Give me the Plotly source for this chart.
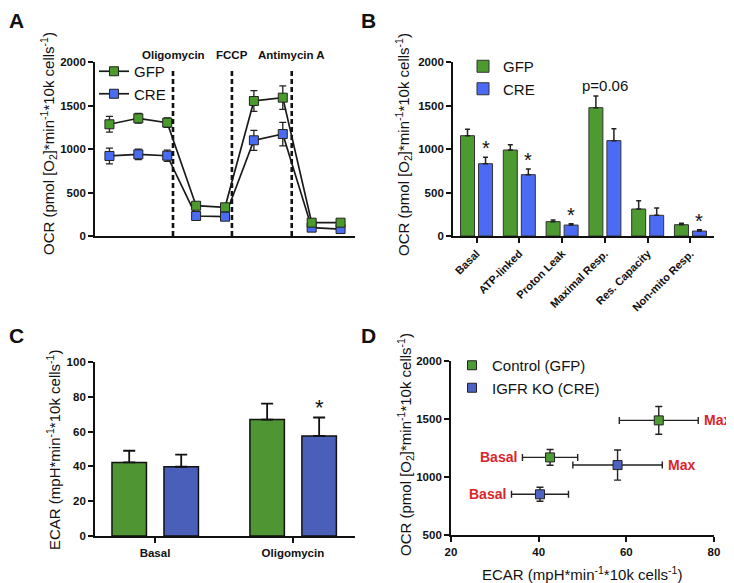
import plotly.graph_objects as go

W, H = 734, 583
OFF = 8  # page body margin of the rendered html
FONT = "Liberation Sans, Arial, sans-serif"

# ---------------- Data ----------------
# Panel A: OCR time course (measurement index)
a_meas = [1, 2, 3, 4, 5, 6, 7, 8, 9]
a_gfp = [1284, 1353, 1303, 348, 330, 1552, 1590, 153, 153]
a_gfp_err = [90, 55, 55, 20, 15, 120, 135, 15, 15]
a_cre = [920, 939, 923, 230, 222, 1100, 1172, 96, 80]
a_cre_err = [90, 60, 65, 15, 15, 115, 135, 10, 10]
inj_pos = [3.2, 5.24, 7.31]
inj_names = ["Oligomycin", "FCCP", "Antimycin A"]

# Panel B: OCR parameters
b_cats = ["Basal", "ATP-linked", "Proton Leak", "Maximal Resp.", "Res. Capacity", "Non-mito Resp."]
b_gfp = [1153, 988, 165, 1475, 310, 130]
b_gfp_err = [73, 62, 19, 134, 96, 16]
b_cre = [831, 705, 126, 1096, 238, 57]
b_cre_err = [73, 65, 16, 138, 84, 16]
b_sig = ["*", "*", "*", "", "", "*"]
b_pnote = {3: "p=0.06"}

# Panel C: ECAR
c_cats = ["Basal", "Oligomycin"]
c_gfp = [42.3, 66.9]
c_gfp_err = [6.7, 9.2]
c_cre = [39.8, 57.5]
c_cre_err = [7.0, 10.6]
c_sig = ["", "*"]

# Panel D: energy map
d_labels = ["Basal", "Max"]
d_gfp_ecar = [42.6, 67.4]
d_gfp_ecar_err = [6.3, 9.0]
d_gfp_ocr = [1169, 1488]
d_gfp_ocr_err = [68, 120]
d_cre_ecar = [40.3, 58.0]
d_cre_ecar_err = [6.5, 10.2]
d_cre_ocr = [851, 1103]
d_cre_ocr_err = [60, 130]

GREEN_A = "#4b9a2c"
BLUE_A = "#4a6cf2"
GREEN_B = "#4d9a30"
BLUE_B = "#4b6bf5"
GREEN_C = "#4f9534"
BLUE_C = "#4a5fb9"
GREEN_D = "#4e9a36"
BLUE_D = "#4f62c2"
RED = "#d8262b"


def px(x):
    return (x - OFF) / W


def py(y):
    return 1 - (y - OFF) / H


fig = go.Figure()

# ---------------- Panel A ----------------
fig.add_trace(go.Scatter(
    x=a_meas, y=a_cre, mode="lines+markers", name="CRE",
    line=dict(color="#1a1a1a", width=1.7),
    marker=dict(symbol="square", size=9, color=BLUE_A, line=dict(color="#222", width=1)),
    error_y=dict(type="data", array=a_cre_err, color="#222", thickness=1.3, width=3.5),
    xaxis="x", yaxis="y", legend="legend", legendrank=2))
fig.add_trace(go.Scatter(
    x=a_meas, y=a_gfp, mode="lines+markers", name="GFP",
    line=dict(color="#1a1a1a", width=1.7),
    marker=dict(symbol="square", size=9, color=GREEN_A, line=dict(color="#222", width=1)),
    error_y=dict(type="data", array=a_gfp_err, color="#222", thickness=1.3, width=3.5),
    xaxis="x", yaxis="y", legend="legend", legendrank=1))

# ---------------- Panel B ----------------
bx = list(range(len(b_cats)))
b_w = 0.327
fig.add_trace(go.Bar(
    x=bx, y=b_gfp, name="GFP", width=b_w, offset=-0.374,
    marker=dict(color=GREEN_B, line=dict(color="#333", width=1)),
    error_y=dict(type="data", array=b_gfp_err, arrayminus=[0] * len(bx), symmetric=False,
                 color="#222", thickness=1.5, width=2.5),
    xaxis="x2", yaxis="y2", legend="legend2"))
fig.add_trace(go.Bar(
    x=bx, y=b_cre, name="CRE", width=b_w, offset=0.047,
    marker=dict(color=BLUE_B, line=dict(color="#333", width=1)),
    error_y=dict(type="data", array=b_cre_err, arrayminus=[0] * len(bx), symmetric=False,
                 color="#222", thickness=1.5, width=2.5),
    xaxis="x2", yaxis="y2", legend="legend2"))

# ---------------- Panel C ----------------
cx = list(range(len(c_cats)))
c_w = 0.25
fig.add_trace(go.Bar(
    x=cx, y=c_gfp, name="GFP", width=c_w, offset=-0.312, showlegend=False,
    marker=dict(color=GREEN_C, line=dict(color="#111", width=1.5)),
    error_y=dict(type="data", array=c_gfp_err, arrayminus=[0] * len(cx), symmetric=False,
                 color="#111", thickness=1.8, width=6),
    xaxis="x3", yaxis="y3"))
fig.add_trace(go.Bar(
    x=cx, y=c_cre, name="CRE", width=c_w, offset=0.065, showlegend=False,
    marker=dict(color=BLUE_C, line=dict(color="#111", width=1.5)),
    error_y=dict(type="data", array=c_cre_err, arrayminus=[0] * len(cx), symmetric=False,
                 color="#111", thickness=1.8, width=6),
    xaxis="x3", yaxis="y3"))

# ---------------- Panel D ----------------
fig.add_trace(go.Scatter(
    x=d_gfp_ecar, y=d_gfp_ocr, mode="markers", name="Control (GFP)",
    marker=dict(symbol="square", size=9, color=GREEN_D, line=dict(color="#222", width=1)),
    error_x=dict(type="data", array=d_gfp_ecar_err, color="#222", thickness=1.4, width=3.5),
    error_y=dict(type="data", array=d_gfp_ocr_err, color="#222", thickness=1.4, width=3.5),
    xaxis="x4", yaxis="y4", legend="legend3"))
fig.add_trace(go.Scatter(
    x=d_cre_ecar, y=d_cre_ocr, mode="markers", name="IGFR KO (CRE)",
    marker=dict(symbol="square", size=9, color=BLUE_D, line=dict(color="#222", width=1)),
    error_x=dict(type="data", array=d_cre_ecar_err, color="#222", thickness=1.4, width=3.5),
    error_y=dict(type="data", array=d_cre_ocr_err, color="#222", thickness=1.4, width=3.5),
    xaxis="x4", yaxis="y4", legend="legend3"))

axis_common = dict(showline=True, linecolor="#111", linewidth=1.8, ticks="outside",
                   ticklen=5, tickwidth=1.6, tickcolor="#111", showgrid=False, zeroline=False,
                   automargin=False,
                   tickfont=dict(family=FONT, size=11.5, color="#111", weight="bold"))

leg_font = dict(family=FONT, size=15, color="#111")
fig.update_layout(
    width=W, height=H, margin=dict(l=0, r=0, t=0, b=0, autoexpand=False),
    plot_bgcolor="white", paper_bgcolor="white", barmode="overlay",
    font=dict(family=FONT, color="#111"),
    xaxis=dict(axis_common, domain=[px(95), px(355)], range=[0.5, 9.5],
               showticklabels=False, ticks="", anchor="y"),
    yaxis=dict(axis_common, domain=[py(236), py(62)], range=[0, 2000],
               tickvals=[0, 500, 1000, 1500, 2000], anchor="x"),
    xaxis2=dict(axis_common, domain=[px(453), px(714)], range=[-0.55, 5.55],
                tickvals=bx, ticktext=b_cats, tickangle=-45, anchor="y2",
                tickfont=dict(family=FONT, size=11, color="#111", weight="bold")),
    yaxis2=dict(axis_common, domain=[py(236), py(62)], range=[0, 2000],
                tickvals=[0, 500, 1000, 1500, 2000], anchor="x2"),
    xaxis3=dict(axis_common, domain=[px(95), px(355)], range=[-0.435, 1.45],
                tickvals=cx, ticktext=c_cats, anchor="y3"),
    yaxis3=dict(axis_common, domain=[py(536), py(362)], range=[0, 100],
                tickvals=[0, 20, 40, 60, 80, 100], anchor="x3"),
    xaxis4=dict(axis_common, domain=[px(451), px(714)], range=[20, 80],
                tickvals=[20, 40, 60, 80], anchor="y4"),
    yaxis4=dict(axis_common, domain=[py(535), py(361)], range=[500, 2000],
                tickvals=[500, 1000, 1500, 2000], anchor="x4"),
    legend=dict(x=px(94), y=py(55), xanchor="left", yanchor="top", bgcolor="rgba(0,0,0,0)",
                font=leg_font, itemwidth=30),
    legend2=dict(x=px(463), y=py(50), xanchor="left", yanchor="top", bgcolor="rgba(0,0,0,0)",
                 font=leg_font, itemwidth=30),
    legend3=dict(x=px(452), y=py(349), xanchor="left", yanchor="top", bgcolor="rgba(0,0,0,0)",
                 font=leg_font, itemwidth=30),
)

# Injection lines
for xp in inj_pos:
    fig.add_shape(type="line", xref="x", yref="y", x0=xp, x1=xp, y0=0, y1=1900,
                  line=dict(color="#111", width=2.6, dash="5px,3px"))

annots = []
for xp, nm in zip(inj_pos, inj_names):
    annots.append(dict(x=xp, y=py(55), xref="x", yref="paper", text=nm, showarrow=False,
                       xanchor="center", yanchor="middle",
                       font=dict(family=FONT, size=11.5, weight="bold", color="#111")))

# Significance marks panel B
for i, s in enumerate(b_sig):
    if s:
        annots.append(dict(x=bx[i] + 0.21, y=b_cre[i] + b_cre_err[i], xref="x2", yref="y2",
                           text=s, showarrow=False, xanchor="center", yanchor="bottom", yshift=-4,
                           font=dict(family=FONT, size=20, color="#111")))
for i, t in b_pnote.items():
    annots.append(dict(x=bx[i], y=b_gfp[i] + b_gfp_err[i], xref="x2", yref="y2", text=t,
                       showarrow=False, xanchor="center", yanchor="bottom", yshift=0,
                       font=dict(family=FONT, size=15, color="#111")))

# Significance panel C
for i, s in enumerate(c_sig):
    if s:
        annots.append(dict(x=cx[i] + 0.192, y=c_cre[i] + c_cre_err[i], xref="x3", yref="y3",
                           text=s, showarrow=False, xanchor="center", yanchor="bottom", yshift=-4,
                           font=dict(family=FONT, size=22, color="#111")))

# Panel D labels
for ecar, eerr, ocr in ((d_gfp_ecar, d_gfp_ecar_err, d_gfp_ocr), (d_cre_ecar, d_cre_ecar_err, d_cre_ocr)):
    annots.append(dict(x=ecar[0] - eerr[0], y=ocr[0], xref="x4", yref="y4", text=d_labels[0],
                       showarrow=False, xanchor="right", yanchor="middle", xshift=-3,
                       font=dict(family=FONT, size=14, color=RED, weight="bold")))
    annots.append(dict(x=ecar[1] + eerr[1], y=ocr[1], xref="x4", yref="y4", text=d_labels[1],
                       showarrow=False, xanchor="left", yanchor="middle", xshift=4,
                       font=dict(family=FONT, size=14, color=RED, weight="bold")))

# Axis titles
ocr_title = "OCR (pmol [O<sub>2</sub>]*min<sup>-1</sup>*10k cells<sup>-1</sup>)"
ecar_title = "ECAR (mpH*min<sup>-1</sup>*10k cells<sup>-1</sup>)"
tfont = dict(family=FONT, size=15, color="#111")
for tx, ty, txt, ang in ((48, 144, ocr_title, -90), (403, 145, ocr_title, -90),
                         (53, 450, ecar_title, -90), (405, 445, ocr_title, -90),
                         (582, 573, ecar_title, 0)):
    annots.append(dict(x=px(tx), y=py(ty), xref="paper", yref="paper", text=txt, textangle=ang,
                       showarrow=False, xanchor="center", yanchor="middle", font=tfont))

# Panel letters
pfont = dict(family=FONT, size=21, weight="bold", color="#111")
for letter, lx, ly, ya in (("A", 16, 8, "top"), ("B", 368, 8, "top"),
                           ("C", 16, 335, "middle"), ("D", 368, 335, "middle")):
    annots.append(dict(x=px(lx), y=py(ly), xref="paper", yref="paper", text=letter,
                       showarrow=False, xanchor="center", yanchor=ya, borderpad=0, font=pfont))

fig.update_layout(annotations=annots)
fig.write_html("out.html")
